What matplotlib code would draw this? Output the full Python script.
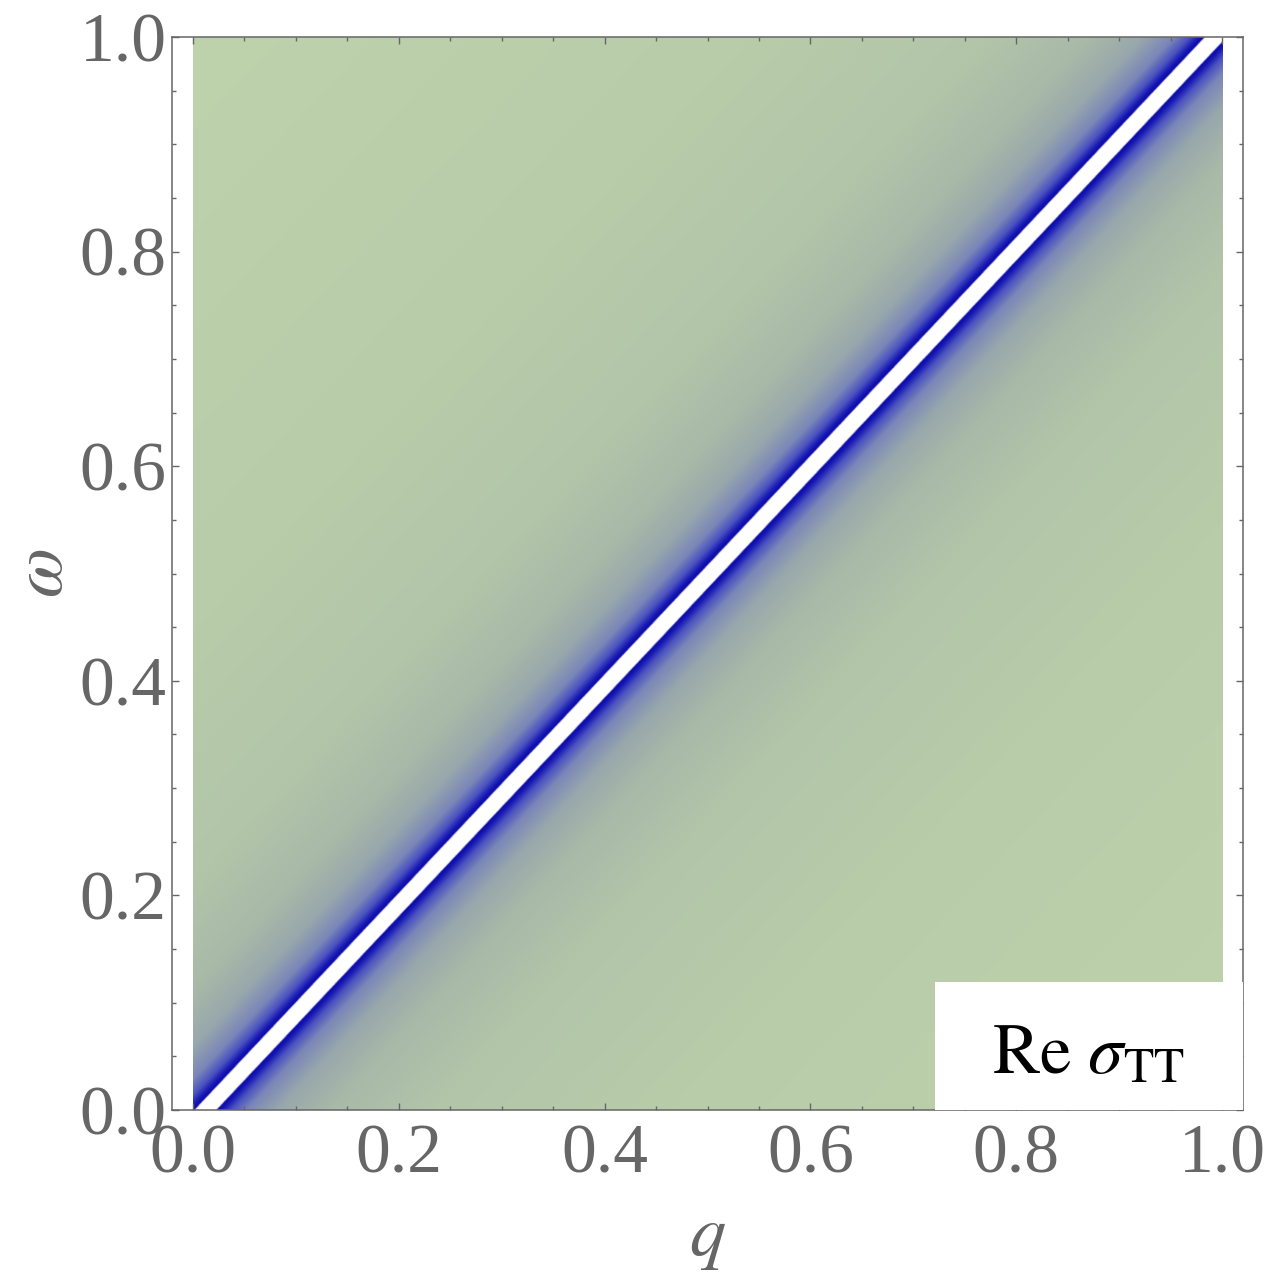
import numpy as np
import matplotlib
matplotlib.use("Agg")
import matplotlib.pyplot as plt
from matplotlib.colors import LinearSegmentedColormap
from matplotlib.patches import Rectangle

plt.rcParams['font.family'] = ['Liberation Serif', 'DejaVu Serif']
plt.rcParams['mathtext.fontset'] = 'stix'

# light-cone singularity (white line): q at omega=0 and omega=1
line_q = [0.012, 0.993]
line_w = [0.0, 1.0]

# colour of the density vs horizontal distance from the singular line
stop_d = [0.0, 0.0095, 0.0115, 0.016, 0.025, 0.04, 0.07, 0.12, 0.22, 0.45, 1.0]
stop_c = ['#FFFFFF', '#FFFFFF', '#0A0AA8', '#1818B4', '#4A52C0', '#7A86B8',
          '#98A7AC', '#A8B9A8', '#B2C5A9', '#B8CCAA', '#BED2AC']

ticks = [0.0, 0.2, 0.4, 0.6, 0.8, 1.0]
tick_labels = ['0.0', '0.2', '0.4', '0.6', '0.8', '1.0']
label_text = r'$\mathrm{Re}\ \sigma_{\mathrm{TT}}$'

gray = '#666666'

cmap = LinearSegmentedColormap.from_list('rett', list(zip(stop_d, stop_c)), N=4096)

n = 1400
q = np.linspace(0, 1, n)
w = np.linspace(0, 1, n)
Q, W = np.meshgrid(q, w)
qline = np.interp(W, line_w, line_q)
dist = np.abs(Q - qline)

fig = plt.figure(figsize=(12.67, 12.77), dpi=100)
ax = fig.add_axes([172/1267, 1 - 1110/1277, (1243-172)/1267, (1110-37)/1277])

ax.imshow(dist, origin='lower', extent=[0, 1, 0, 1], cmap=cmap, vmin=0, vmax=1,
          aspect='auto', interpolation='bilinear', zorder=1)

# white label box in the lower right corner
ax.add_patch(Rectangle((0.721, 0.0), 0.31, 0.119, facecolor='white',
                       edgecolor='none', zorder=3))
ax.text(0.870, 0.050, label_text, fontsize=51, color='black', ha='center',
        va='center', zorder=4)

ax.set_xlim(-0.0204, 1.0204)
ax.set_ylim(0, 1)

ax.set_xticks(ticks)
ax.set_xticklabels(tick_labels)
ax.set_yticks(ticks)
ax.set_yticklabels(tick_labels)
ax.set_xticks(np.arange(0, 1.001, 0.05), minor=True)
ax.set_yticks(np.arange(0, 1.001, 0.05), minor=True)
ax.tick_params(which='both', direction='in', top=True, right=True, color=gray,
               width=1.0)
ax.tick_params(which='major', length=5, labelsize=50, labelcolor=gray)
ax.tick_params(which='minor', length=2.8)
ax.tick_params(axis='x', pad=10)
ax.tick_params(axis='y', pad=4)
for s in ax.spines.values():
    s.set_color(gray)
    s.set_linewidth(1.1)

ax.set_xlabel(r'$q$', fontsize=52, color=gray, labelpad=14)
ax.set_ylabel(r'$\omega$', fontsize=52, color=gray, labelpad=2)

fig.savefig('out.png', dpi=100)
